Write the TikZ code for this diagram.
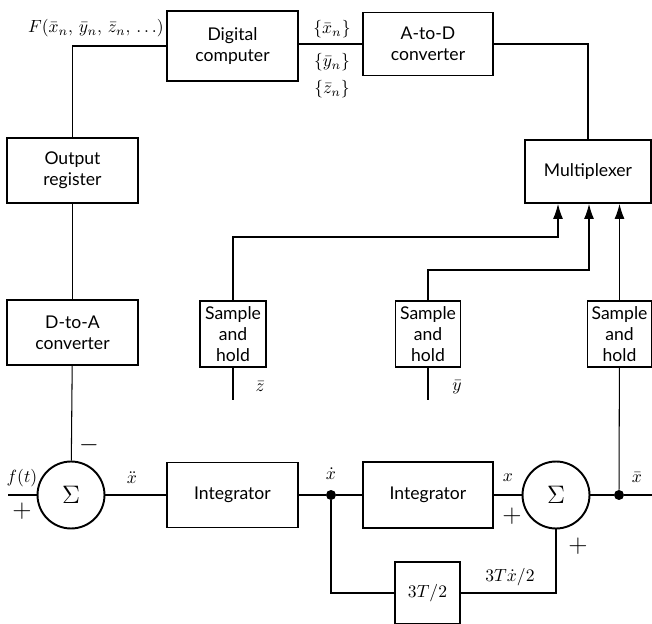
\documentclass[tikz,border=0pt]{standalone}
\usepackage{fontspec}
\setmainfont{Lato}
\usetikzlibrary{arrows.meta}

\tikzset{
    blk/.style={draw, line width=1.1pt, align=center, inner sep=1pt, font=\fontsize{10}{12}\selectfont},
    summer/.style={draw, circle, line width=1.1pt, minimum size=1.34cm, inner sep=0pt, font=\Large},
    jdot/.style={circle, fill, inner sep=0pt, minimum size=0.2cm},
    sig/.style={line width=0.6pt},
    feed/.style={sig, -{Latex[length=3mm, width=2mm]}},
    lbl/.style={inner sep=0pt, font=\fontsize{10}{12}\selectfont},
    sgn/.style={inner sep=0pt, font=\Large}
}

\begin{document}
\begin{tikzpicture}[x=0.02cm, y=-0.02cm]
            \useasboundingbox (0, 0) rectangle (652, 624);

            \node[blk, minimum width=2.62cm, minimum height=1.4cm] (comp) at (232.5, 46) {Digital\\computer};
            \node[blk, minimum width=2.6cm, minimum height=1.26cm] (atod) at (428, 44) {A-to-D\\converter};
            \node[blk, minimum width=2.62cm, minimum height=1.3cm] (outreg) at (72.5, 170.5) {Output\\register};
            \node[blk, minimum width=2.62cm, minimum height=1.3cm] (dtoa) at (72.5, 332.5) {D-to-A\\converter};
            \node[blk, minimum width=2.52cm, minimum height=1.26cm] (mux) at (588, 171.5) {Multiplexer};

            \node[blk, minimum width=1.32cm, minimum height=1.32cm] (shz) at (233, 334) {Sample\\and\\hold};
            \node[blk, minimum width=1.3cm, minimum height=1.32cm] (shy) at (428, 334) {Sample\\and\\hold};
            \node[blk, minimum width=1.28cm, minimum height=1.32cm] (shx) at (619.5, 334) {Sample\\and\\hold};

            \node[summer] (sum1) at (71, 495) {$\Sigma$};
            \node[blk, minimum width=2.62cm, minimum height=1.3cm] (int1) at (232.5, 495) {Integrator};
            \node[jdot] (dot1) at (331, 495) {};
            \node[blk, minimum width=2.6cm, minimum height=1.32cm] (int2) at (428, 495) {Integrator};
            \node[summer] (sum2) at (556, 495) {$\Sigma$};
            \node[jdot] (dot2) at (619, 495) {};
            \node[blk, minimum width=1.3cm, minimum height=1.24cm] (gain) at (427.5, 593) {$3T/2$};

            \coordinate (k1) at (558, 237);
            \coordinate (k2) at (589, 270);
            \coordinate (zin) at (233, 400);
            \coordinate (yin) at (428, 400);
            \coordinate (fin) at (8, 495);
            \coordinate (xout) at (652, 495);

            \draw[sig] (comp.west) -| (outreg.north);
            \draw[sig] (outreg) -- (dtoa);
            \draw[sig] (dtoa) -- (sum1);
            \draw[sig] (comp.east |- atod.west) -- (atod.west);
            \draw[sig] (atod.east) -| (mux.north);

            \draw[feed] (shz.north) |- (k1) -- (k1 |- mux.south);
            \draw[feed] (shy.north) |- (k2) -- (k2 |- mux.south);
            \draw[feed] (shx.north) -- (shx.north |- mux.south);

            \draw[sig] (shz) -- (zin);
            \draw[sig] (shy) -- (yin);
            \draw[sig] (shx) -- (dot2);

            \draw[sig] (fin) -- (sum1);
            \draw[sig] (sum1) -- (int1);
            \draw[sig] (int1) -- (dot1) -- (int2);
            \draw[sig] (int2) -- (sum2);
            \draw[sig] (sum2) -- (dot2) -- (xout);
            \draw[sig] (dot1) |- (gain.west);
            \draw[sig] (gain.east) -| (sum2.south);

            \node[lbl, anchor=east] (flab) at (164, 28) {$F(\bar x_n,\,\bar y_n,\,\bar z_n,\,\ldots)$};
            \node[lbl] (xset) at (332, 29) {$\{\bar x_n\}$};
            \node[lbl] (yset) at (332, 62) {$\{\bar y_n\}$};
            \node[lbl] (zset) at (332, 89) {$\{\bar z_n\}$};

            \node[lbl] (zlab) at (260, 387) {$\bar z$};
            \node[lbl] (ylab) at (457, 387) {$\bar y$};

            \node[lbl] (ftlab) at (22, 478) {$f(t)$};
            \node[sgn] (plus1) at (22, 511) {$+$};
            \node[sgn] (minus1) at (89, 445) {$-$};
            \node[lbl] (xddlab) at (132, 478) {$\ddot x$};
            \node[lbl] (xdlab) at (331, 474) {$\dot x$};
            \node[lbl] (xlab) at (508, 478) {$x$};
            \node[sgn] (plus2) at (512, 516) {$+$};
            \node[sgn] (plus3) at (578, 546) {$+$};
            \node[lbl] (gainlab) at (510, 577) {$3T\dot x/2$};
            \node[lbl] (xbarlab) at (637, 478) {$\bar x$};
\end{tikzpicture}
\end{document}
